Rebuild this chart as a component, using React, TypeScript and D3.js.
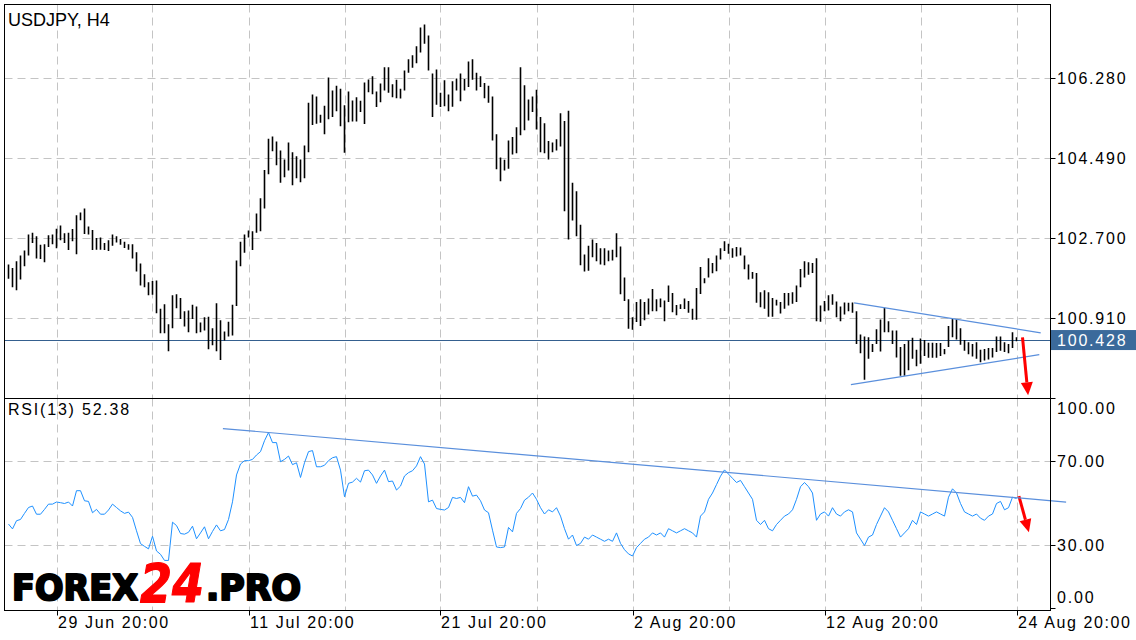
import React from "react";
import * as d3 from "d3";

// ---------- DATA ----------
const highs = [
  102.12, 102.04, 102.19, 102.32, 102.43, 102.79, 102.83, 102.75, 102.56, 102.57,
  102.77, 102.79, 102.92, 102.99, 102.82, 102.83, 102.91, 103.22, 103.28, 103.37,
  102.97, 102.89, 102.71, 102.72, 102.60, 102.66, 102.79, 102.75, 102.69, 102.63,
  102.57, 102.57, 102.39, 102.14, 101.90, 101.72, 101.75, 101.76, 101.13, 101.23,
  100.78, 101.43, 101.45, 101.37, 101.07, 101.09, 101.22, 101.18, 100.82, 100.94,
  100.95, 100.69, 101.25, 100.87, 100.62, 100.84, 101.22, 102.21, 102.63, 102.79,
  102.88, 102.86, 103.26, 103.60, 104.23, 104.93, 104.98, 104.87, 104.67, 104.47,
  104.85, 104.63, 104.54, 104.47, 104.78, 105.74, 105.92, 105.88, 105.47, 105.67,
  106.30, 106.01, 106.12, 106.05, 105.68, 105.99, 105.79, 105.86, 105.78, 106.19,
  106.26, 106.33, 105.99, 106.17, 106.53, 106.53, 106.15, 106.25, 106.05, 106.46,
  106.71, 106.80, 107.00, 107.42, 107.49, 107.24, 106.39, 106.48, 105.96, 106.24,
  105.92, 106.22, 106.28, 106.39, 106.27, 106.66, 106.71, 106.41, 106.33, 106.18,
  106.12, 105.88, 105.03, 104.51, 104.46, 104.89, 104.97, 105.19, 106.53, 106.13,
  105.81, 105.88, 106.03, 105.42, 105.28, 104.88, 104.85, 104.92, 105.50, 105.33,
  105.56, 103.95, 103.76, 103.01, 102.34, 102.54, 102.68, 102.60, 102.48, 102.48,
  102.43, 102.45, 102.82, 102.52, 101.83, 101.34, 100.94, 101.28, 101.34, 101.28,
  101.36, 101.57, 101.34, 101.36, 101.31, 101.65, 101.48, 101.21, 101.23, 101.36,
  101.30, 101.13, 101.59, 102.06, 101.81, 102.26, 102.15, 102.32, 102.48, 102.64,
  102.58, 102.48, 102.51, 102.50, 102.32, 102.12, 101.95, 101.93, 101.50, 101.54,
  101.50, 101.37, 101.33, 101.28, 101.48, 101.48, 101.50, 101.65, 102.02, 102.19,
  102.17, 102.15, 102.26, 101.20, 101.30, 101.43, 101.45, 101.29, 101.18, 101.27,
  101.26, 101.27, 101.07, 100.55, 100.51, 100.49, 100.34, 100.67, 100.89, 101.15,
  100.85, 100.64, 100.64, 100.27, 100.34, 100.42, 100.48, 100.21, 100.46, 100.43,
  100.37, 100.37, 100.36, 100.36, 100.23, 100.74, 100.90, 100.90, 100.69, 100.43,
  100.38, 100.34, 100.38, 100.21, 100.23, 100.25, 100.25, 100.51, 100.51, 100.38,
  100.34, 100.60, 100.49,
];

const lows = [
  101.80, 101.61, 101.54, 101.78, 102.08, 102.32, 102.60, 102.25, 102.24, 102.17,
  102.51, 102.57, 102.48, 102.66, 102.60, 102.44, 102.64, 102.35, 103.11, 102.80,
  102.79, 102.44, 102.45, 102.45, 102.44, 102.42, 102.54, 102.61, 102.56, 102.49,
  102.45, 102.25, 101.96, 101.65, 101.61, 101.43, 101.44, 101.03, 100.58, 100.58,
  100.18, 100.69, 101.14, 100.90, 100.73, 100.60, 100.90, 100.58, 100.60, 100.64,
  100.22, 100.31, 100.18, 99.98, 100.42, 100.51, 100.53, 101.19, 102.08, 102.38,
  102.72, 102.44, 102.83, 102.86, 103.37, 104.14, 104.65, 104.34, 103.95, 104.07,
  104.22, 103.89, 104.05, 103.96, 104.05, 104.63, 105.24, 105.27, 105.29, 105.03,
  105.37, 105.42, 105.55, 105.21, 104.62, 105.30, 105.32, 105.32, 105.53, 105.26,
  105.97, 105.93, 105.64, 105.75, 106.01, 105.96, 105.86, 105.84, 105.83, 106.01,
  106.41, 106.52, 106.62, 106.86, 107.06, 106.46, 105.42, 105.69, 105.64, 105.66,
  105.55, 105.65, 106.01, 105.77, 106.01, 106.09, 106.25, 106.01, 106.09, 105.84,
  105.74, 104.89, 104.25, 103.98, 104.22, 104.26, 104.58, 104.61, 105.01, 105.12,
  105.34, 105.53, 105.14, 104.63, 104.61, 104.47, 104.63, 104.67, 104.76, 103.31,
  102.68, 103.10, 102.75, 102.10, 101.96, 101.98, 102.28, 102.19, 102.12, 102.10,
  102.19, 102.21, 102.28, 101.45, 101.30, 100.68, 100.66, 100.83, 100.74, 100.87,
  101.00, 101.07, 101.07, 101.16, 100.85, 101.28, 101.05, 100.98, 101.12, 101.12,
  101.04, 100.88, 100.88, 101.46, 101.70, 101.83, 101.92, 101.97, 102.23, 102.42,
  102.36, 102.27, 102.30, 102.32, 102.01, 101.78, 101.80, 101.26, 101.16, 101.13,
  100.95, 100.95, 101.20, 101.02, 101.13, 101.20, 101.24, 101.28, 101.61, 101.83,
  101.89, 101.93, 100.85, 100.84, 101.07, 101.09, 101.22, 100.94, 100.85, 101.00,
  101.07, 101.04, 100.34, 100.13, 99.54, 100.01, 100.16, 100.34, 100.17, 100.60,
  100.60, 100.34, 100.04, 99.63, 99.63, 99.75, 100.01, 99.84, 99.90, 100.07,
  100.03, 100.03, 100.03, 100.07, 100.11, 100.27, 100.49, 100.44, 100.32, 100.19,
  100.11, 100.06, 100.01, 99.93, 99.97, 99.99, 100.04, 100.16, 100.19, 100.16,
  100.13, 100.25, 100.40,
];

const rsi = [
  40.2, 37.9, 41.8, 42.4, 45.3, 48.1, 48.8, 44.9, 44.9, 47.2,
  49.7, 49.7, 50.7, 50.4, 50.0, 50.7, 48.8, 56.1, 56.1, 51.3,
  51.0, 45.6, 47.2, 44.9, 44.9, 46.9, 49.7, 48.1, 46.5, 45.3,
  45.9, 43.4, 37.0, 30.9, 29.6, 28.4, 34.4, 27.4, 25.8, 22.9,
  22.9, 41.1, 39.5, 35.7, 35.4, 36.3, 39.2, 33.2, 36.0, 38.9,
  33.2, 36.7, 39.8, 37.0, 37.6, 42.4, 50.8, 63.6, 68.8, 70.4,
  70.4, 71.0, 73.1, 74.7, 79.9, 83.8, 79.0, 79.0, 69.9, 71.0,
  72.6, 68.5, 69.4, 62.4, 69.4, 74.7, 75.2, 67.5, 67.5, 68.2,
  70.4, 71.8, 72.3, 65.9, 53.2, 59.6, 60.2, 62.0, 60.2, 65.6,
  65.9, 63.6, 59.6, 63.1, 65.9, 60.4, 60.7, 56.4, 58.3, 63.1,
  64.7, 65.6, 67.9, 72.3, 68.8, 50.8, 51.6, 47.6, 47.2, 46.9,
  48.1, 52.9, 52.4, 52.9, 50.4, 58.0, 53.5, 54.0, 51.3, 46.9,
  45.6, 37.3, 29.3, 29.0, 29.3, 38.6, 36.5, 45.3, 47.6, 51.6,
  53, 55, 52, 48, 45, 47,
  46, 48, 44, 38, 33,
  35, 30, 31, 34, 33,
  35, 34, 33, 32, 33, 32, 36,
  31, 28, 26, 25,
  29, 31, 33, 34, 36, 35, 36, 34, 38,
  37, 36, 37, 38, 37, 36, 34,
  44, 46, 52, 55, 59, 63, 66, 64,
  62, 60, 61, 58, 55, 52,
  42, 40, 42, 38, 37, 40, 42,
  44, 45, 47, 52, 58, 60, 58,
  55, 42, 45, 46, 44,
  48, 45, 44, 46, 47, 46,
  36, 33, 30, 34, 35,
  40, 44, 48, 46, 42, 38,
  34, 36, 38, 42, 40, 46,
  45, 44, 45, 46, 45, 44,
  53, 57, 55, 50, 46, 45,
  44, 45, 43, 42, 44, 45,
  50, 51, 47, 48, 53, 52.38,
];

const priceTicks = [106.28, 104.49, 102.7, 100.91];
const priceTickLabels = ["106.280", "104.490", "102.700", "100.910"];
const rsiTicks = [100, 70, 30, 0];
const rsiTickLabels = ["100.00", "70.00", "30.00", "0.00"];
const dateTickIndex = [12, 60, 108, 156, 204, 252];
const dateTickLabels = ["29 Jun 20:00", "11 Jul 20:00", "21 Jul 20:00", "2 Aug 20:00", "12 Aug 20:00", "24 Aug 20:00"];
const gridIndex = [12, 36, 60, 84, 108, 132, 156, 180, 204, 228, 252];
const currentPrice = 100.428;
const currentPriceLabel = "100.428";
const rsiTitle = "RSI(13) 52.38";
const chartTitle = "USDJPY, H4";

// trend lines: [barIndex, value]
const priceUpperTrend = [[211.4, 101.26], [258.05, 100.59]];
const priceLowerTrend = [[210.6, 99.43], [257.7, 100.1]];
const rsiTrend = [[53.6, 85.7], [264.4, 50.7]];
// arrows: [barIndex, value] start -> tip
const priceArrow = [[253.5, 100.49], [254.9, 99.19]];
const rsiArrow = [[252.6, 53.5], [255.1, 36.3]];

// ---------- LAYOUT ----------
const LEFT = 4.5;
const RIGHT = 1050.5;
const TOP = 4.5;
const MID = 398.5;
const BOTTOM = 610.5;
const FONT = "'Liberation Sans', Arial, sans-serif";
const GRID = "#c4c4c4";

const x = d3.scaleLinear().domain([0, 252]).range([8.5, 1016.5]);
const yP = d3.scaleLinear().domain([100.91, 106.28]).range([318.5, 78.5]);
const yR = d3.scaleLinear().domain([30, 70]).range([545.5, 461.5]);

function Arrow({ pts, sx, sy }: { pts: number[][]; sx: any; sy: any }) {
  const x0 = sx(pts[0][0]);
  const y0 = sy(pts[0][1]);
  const x1 = sx(pts[1][0]);
  const y1 = sy(pts[1][1]);
  const dx = x1 - x0;
  const dy = y1 - y0;
  const len = Math.sqrt(dx * dx + dy * dy);
  const ux = dx / len;
  const uy = dy / len;
  const headL = 13;
  const headW = 6;
  const bx = x1 - ux * headL;
  const by = y1 - uy * headL;
  const px = -uy;
  const py = ux;
  const tri = `${x1},${y1} ${bx + px * headW},${by + py * headW} ${bx - px * headW},${by - py * headW}`;
  return (
    <g>
      <line x1={x0} y1={y0} x2={bx} y2={by} stroke="#ff0000" strokeWidth={3} />
      <polygon points={tri} fill="#ff0000" />
    </g>
  );
}

export default function App() {
  const rsiLine = d3
    .line<number>()
    .x((_, i) => x(i))
    .y((d) => yR(d));

  return (
    <svg
      width={1136}
      height={640}
      style={{ position: "absolute", left: 0, top: 0, background: "#fff" }}
      fontFamily={FONT}
    >
      <defs>
        <clipPath id="pclip">
          <rect x={LEFT} y={TOP} width={RIGHT - LEFT} height={MID - TOP} />
        </clipPath>
        <clipPath id="rclip">
          <rect x={LEFT} y={MID} width={RIGHT - LEFT} height={BOTTOM - MID} />
        </clipPath>
      </defs>
      <rect x={0} y={0} width={1136} height={640} fill="#fff" />

      {/* grid */}
      {gridIndex.map((k) => (
        <g key={"g" + k}>
          <line x1={Math.round(x(k)) + 0.5} x2={Math.round(x(k)) + 0.5} y1={TOP} y2={MID} stroke={GRID} strokeDasharray="8,5" />
          <line x1={Math.round(x(k)) + 0.5} x2={Math.round(x(k)) + 0.5} y1={MID} y2={BOTTOM} stroke={GRID} strokeDasharray="8,5" />
        </g>
      ))}
      {priceTicks.map((p) => (
        <line key={"pg" + p} x1={LEFT} x2={RIGHT} y1={yP(p)} y2={yP(p)} stroke={GRID} strokeDasharray="8,5" />
      ))}
      {[70, 30].map((v) => (
        <line key={"rg" + v} x1={LEFT} x2={RIGHT} y1={yR(v)} y2={yR(v)} stroke={GRID} strokeDasharray="8,5" />
      ))}

      {/* current price line */}
      <line x1={LEFT} x2={RIGHT} y1={Math.round(yP(currentPrice)) + 0.5} y2={Math.round(yP(currentPrice)) + 0.5} stroke="#35608f" strokeWidth={1} />

      {/* bars */}
      <g clipPath="url(#pclip)">
        {highs.map((h, i) => (
          <line key={"b" + i} x1={x(i)} x2={x(i)} y1={yP(h)} y2={yP(lows[i])} stroke="#000" strokeWidth={1.6} />
        ))}
        <line
          x1={x(priceUpperTrend[0][0])}
          y1={yP(priceUpperTrend[0][1])}
          x2={x(priceUpperTrend[1][0])}
          y2={yP(priceUpperTrend[1][1])}
          stroke="#5a8fdc"
          strokeWidth={1.2}
        />
        <line
          x1={x(priceLowerTrend[0][0])}
          y1={yP(priceLowerTrend[0][1])}
          x2={x(priceLowerTrend[1][0])}
          y2={yP(priceLowerTrend[1][1])}
          stroke="#5a8fdc"
          strokeWidth={1.2}
        />
        <Arrow pts={priceArrow} sx={x} sy={yP} />
      </g>

      {/* RSI */}
      <g clipPath="url(#rclip)">
        <path d={rsiLine(rsi) || ""} fill="none" stroke="#1e90ff" strokeWidth={1} />
        <Arrow pts={rsiArrow} sx={x} sy={yR} />
      </g>
      <line
        x1={x(rsiTrend[0][0])}
        y1={yR(rsiTrend[0][1])}
        x2={x(rsiTrend[1][0])}
        y2={yR(rsiTrend[1][1])}
        stroke="#5a8fdc"
        strokeWidth={1.2}
      />

      {/* frame */}
      <rect x={LEFT} y={TOP} width={RIGHT - LEFT} height={BOTTOM - TOP} fill="none" stroke="#000" strokeWidth={1} />
      <line x1={LEFT} x2={RIGHT} y1={MID} y2={MID} stroke="#000" />

      {/* price axis */}
      {priceTicks.map((p, i) => (
        <g key={"pt" + p}>
          <line x1={RIGHT} x2={RIGHT + 5} y1={yP(p)} y2={yP(p)} stroke="#000" />
          <text x={1057} y={yP(p)} dy="0.36em" fontSize={16} letterSpacing={1.8} fill="#000">
            {priceTickLabels[i]}
          </text>
        </g>
      ))}
      <rect x={1051} y={yP(currentPrice) - 10} width={85} height={20} fill="#3b6a9b" />
      <text x={1057} y={yP(currentPrice)} dy="0.36em" fontSize={16} letterSpacing={1.8} fill="#fff">
        {currentPriceLabel}
      </text>

      {/* rsi axis */}
      {rsiTicks.map((v, i) => {
        const yy = yR(v);
        const ly = Math.min(Math.max(yy, MID + 10), BOTTOM - 13);
        return (
          <g key={"rt" + v}>
            <line x1={RIGHT} x2={RIGHT + 5} y1={yy} y2={yy} stroke="#000" />
            <text x={1057} y={ly} dy="0.36em" fontSize={16} letterSpacing={1.8} fill="#000">
              {rsiTickLabels[i]}
            </text>
          </g>
        );
      })}

      {/* date axis */}
      {dateTickIndex.map((k, i) => (
        <g key={"dt" + k}>
          <line x1={Math.round(x(k)) + 0.5} x2={Math.round(x(k)) + 0.5} y1={BOTTOM} y2={BOTTOM + 5} stroke="#000" />
          <text x={Math.round(x(k)) + 1} y={628} fontSize={16} letterSpacing={1.6} fill="#000">
            {dateTickLabels[i]}
          </text>
        </g>
      ))}

      {/* titles */}
      <text x={8} y={26} fontSize={18} fill="#000">
        {chartTitle}
      </text>
      <text x={8} y={415} fontSize={16} letterSpacing={1.8} fill="#000">
        {rsiTitle}
      </text>

      {/* logo */}
      <g fontFamily="'DejaVu Sans', sans-serif" fontWeight="bold" strokeLinejoin="round">
        <text x={12} y={600} fontSize={35} textLength={126} lengthAdjust="spacingAndGlyphs" fill="#000" stroke="#000" strokeWidth={2.2}>
          FOREX
        </text>
        <text x={140} y={602} fontSize={54} fontStyle="italic" textLength={64} lengthAdjust="spacingAndGlyphs" fill="#ff0000" stroke="#ff0000" strokeWidth={1.2}>
          24
        </text>
        <text x={206} y={600} fontSize={35} textLength={95} lengthAdjust="spacingAndGlyphs" fill="#000" stroke="#000" strokeWidth={2.2}>
          .PRO
        </text>
      </g>
    </svg>
  );
}
